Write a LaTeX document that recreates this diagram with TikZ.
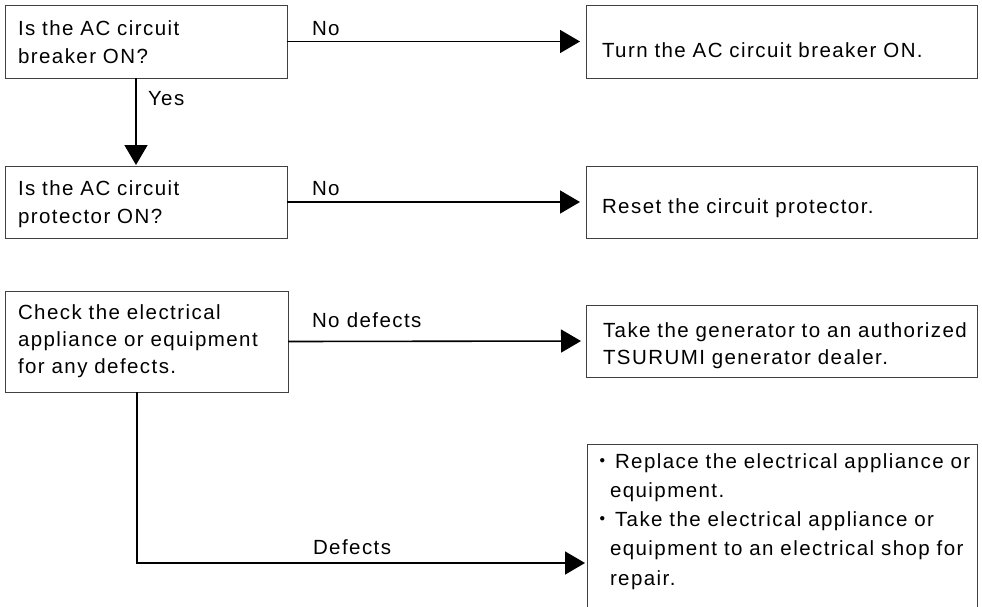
\documentclass[tikz,border=0pt]{standalone}
\usepackage{fontspec}
\setmainfont{Liberation Sans}[LetterSpace=7]
\newfontfamily\cjk{Noto Sans CJK JP}
\usetikzlibrary{arrows.meta}
\begin{document}
\begin{tikzpicture}[x=1pt,y=-1pt,
  box/.style={draw=black!75, line width=1pt, rectangle, anchor=north west, inner sep=0pt, outer sep=0pt},
  txt/.style={anchor=base west, inner sep=0pt, outer sep=0pt, text width=420pt, align=left, font=\fontsize{20.5}{28}\selectfont},
  lbl/.style={anchor=base west, inner sep=0pt, outer sep=0pt, font=\fontsize{20.5}{24}\selectfont},
  conn/.style={draw=black, line width=1.6pt, -{Triangle[length=20pt,width=23pt]}}]
\useasboundingbox (0,0) rectangle (982,606);
\clip (0,0) rectangle (982,606);
% boxes
\node[box, minimum width=282pt, minimum height=73pt] (b1) at (5,5) {};
\node[box, minimum width=282pt, minimum height=72pt] (b2) at (5,166) {};
\node[box, minimum width=283pt, minimum height=101pt] (b3) at (5,291) {};
\node[box, minimum width=391pt, minimum height=73pt] (r1) at (586,5) {};
\node[box, minimum width=391pt, minimum height=72pt] (r2) at (586,166) {};
\node[box, minimum width=391pt, minimum height=72pt] (r3) at (586,305) {};
\node[box, minimum width=390pt, minimum height=238pt] (r4) at (587,444) {};
% texts
\node[txt] (t1) at (18,35) {Is the AC circuit\\breaker ON?};
\node[txt] (t2) at (18,195) {Is the AC circuit\\protector ON?};
\node[txt, font=\fontsize{20.5}{27}\selectfont] (t3) at (18,319) {Check the electrical\\appliance or equipment\\for any defects.};
\node[txt] (t4) at (602,57) {Turn the AC circuit breaker ON.};
\node[txt] (t5) at (602,213) {Reset the circuit protector.};
\node[txt, font=\fontsize{20.5}{27}\selectfont] (t6) at (603,337) {Take the generator to an authorized\\TSURUMI generator dealer.};
\node[txt, font=\fontsize{20.5}{29.25}\selectfont] (t7) at (592,468) {\makebox[23pt][l]{\cjk ・}Replace the electrical appliance or\\\hspace*{18pt}equipment.\\\makebox[23pt][l]{\cjk ・}Take the electrical appliance or\\\hspace*{18pt}equipment to an electrical shop for\\\hspace*{18pt}repair.};
% labels
\node[lbl] (l1) at (312,35) {No};
\node[lbl] (l2) at (312,195) {No};
\node[lbl] (l3) at (148,105) {Yes};
\node[lbl] (l4) at (312,327) {No defects};
\node[lbl] (l5) at (313,554) {Defects};
% connectors
\draw[conn, shorten >=6pt] (b1.east) -- (r1.west);
\draw[conn, shorten >=6pt] (b2.east) -- (r2.west);
\draw[conn, shorten >=5pt] (b3.east) -- (r3.west);
\coordinate (yx) at (136,0);
\draw[conn, shorten >=1pt] (b1.south -| yx) -- (b2.north -| yx);
\coordinate (dx) at (137,0);
\draw[conn, shorten >=2pt] (b3.south -| dx) |- (r4.west);
\end{tikzpicture}
\end{document}
